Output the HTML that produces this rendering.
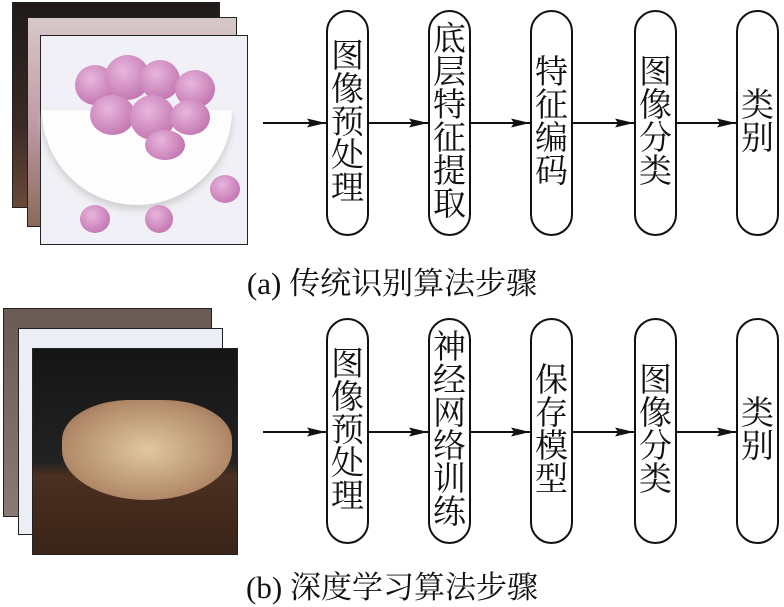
<!DOCTYPE html>
<html><head><meta charset="utf-8"><style>
body{margin:0;width:784px;height:605px;background:#fff;position:relative;overflow:hidden;font-family:"Liberation Serif","Noto Serif CJK SC",serif}
.im{position:absolute;border:1.5px solid #222;box-sizing:border-box}
.pill{position:absolute;width:43px;border:2px solid #111;border-radius:22px;box-sizing:border-box;display:flex;flex-direction:column;justify-content:center;align-items:center;font-size:33px;line-height:33px;color:#111}
.cap{position:absolute;left:0;width:784px;text-align:center;font-size:31px;color:#111}
.b{position:absolute;border-radius:50%;background:radial-gradient(circle at 40% 35%,#e7b6dc,#b862a4)}
</style></head><body>
<div class="im" style="left:12px;top:2px;width:208px;height:206px;background:linear-gradient(#1e1a18,#3a2a25 60%,#6a4a3a)"></div>
<div class="im" style="left:27px;top:17px;width:210px;height:210px;background:linear-gradient(#d8c8c8,#c09aa8 50%,#8a6a5a)"></div>
<div class="im" style="left:40px;top:35px;width:208px;height:210px;background:#f0f0f6"></div>
<div style="position:absolute;left:42px;top:110px;width:190px;height:95px;border-radius:0 0 100px 100px;background:#fdfdfe;box-shadow:0 4px 8px #ccc"></div>
<div class="b" style="left:75px;top:65px;width:40px;height:40px"></div><div class="b" style="left:105px;top:55px;width:45px;height:45px"></div><div class="b" style="left:140px;top:60px;width:40px;height:40px"></div><div class="b" style="left:175px;top:70px;width:40px;height:38px"></div><div class="b" style="left:90px;top:95px;width:45px;height:40px"></div><div class="b" style="left:130px;top:95px;width:45px;height:45px"></div><div class="b" style="left:170px;top:100px;width:40px;height:35px"></div><div class="b" style="left:145px;top:130px;width:40px;height:30px"></div>
<div class="b" style="left:80px;top:205px;width:30px;height:28px"></div><div class="b" style="left:145px;top:205px;width:28px;height:28px"></div><div class="b" style="left:210px;top:175px;width:30px;height:28px"></div>
<div class="im" style="left:3px;top:308px;width:209px;height:209px;background:linear-gradient(#6a5a55,#8a7a75)"></div>
<div class="im" style="left:18px;top:328px;width:205px;height:207px;background:#eceef5"></div>
<div class="im" style="left:32px;top:348px;width:206px;height:207px;background:linear-gradient(#151515 0%,#222 55%,#4a3020 62%,#3a2418 100%)"></div>
<div style="position:absolute;left:62px;top:400px;width:170px;height:100px;border-radius:40% 40% 50% 50%;background:radial-gradient(ellipse at 50% 50%,#e0c8a0,#b08868 70%,#7a5a48)"></div>
<svg width="784" height="605" style="position:absolute;left:0;top:0">
<defs><marker id="a" markerWidth="20" markerHeight="10" refX="19" refY="5" orient="auto" markerUnits="userSpaceOnUse"><path d="M0,0.5 L19,5 L0,9.5 L3,5 Z" fill="#111"/></marker></defs>
<g stroke="#111" stroke-width="2" marker-end="url(#a)">
<line x1="263" y1="123" x2="326" y2="123"/><line x1="369" y1="123" x2="428" y2="123"/><line x1="471" y1="123" x2="530" y2="123"/><line x1="573" y1="123" x2="634" y2="123"/><line x1="677" y1="123" x2="736" y2="123"/>
<line x1="263" y1="432" x2="326" y2="432"/><line x1="369" y1="432" x2="428" y2="432"/><line x1="471" y1="432" x2="530" y2="432"/><line x1="573" y1="432" x2="634" y2="432"/><line x1="677" y1="432" x2="736" y2="432"/>
</g></svg>
<div class="pill" style="left:326px;top:10px;height:226px">图<br>像<br>预<br>处<br>理</div>
<div class="pill" style="left:428px;top:10px;height:226px">底<br>层<br>特<br>征<br>提<br>取</div>
<div class="pill" style="left:530px;top:10px;height:226px">特<br>征<br>编<br>码</div>
<div class="pill" style="left:634px;top:10px;height:226px">图<br>像<br>分<br>类</div>
<div class="pill" style="left:736px;top:10px;height:226px">类<br>别</div>
<div class="pill" style="left:326px;top:318px;height:226px">图<br>像<br>预<br>处<br>理</div>
<div class="pill" style="left:428px;top:318px;height:226px">神<br>经<br>网<br>络<br>训<br>练</div>
<div class="pill" style="left:530px;top:318px;height:226px">保<br>存<br>模<br>型</div>
<div class="pill" style="left:634px;top:318px;height:226px">图<br>像<br>分<br>类</div>
<div class="pill" style="left:736px;top:318px;height:226px">类<br>别</div>
<div class="cap" style="top:258px">(a) 传统识别算法步骤</div>
<div class="cap" style="top:562px">(b) 深度学习算法步骤</div>
</body></html>
